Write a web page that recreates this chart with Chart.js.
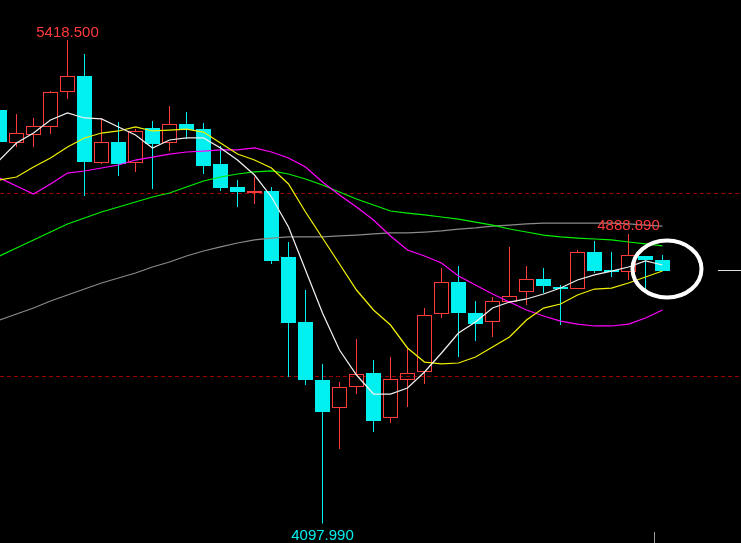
<!DOCTYPE html>
<html>
<head>
<meta charset="utf-8">
<script src="https://cdn.jsdelivr.net/npm/chart.js@4.4.1/dist/chart.umd.min.js"></script>
<style>
  html, body { margin: 0; padding: 0; background: #000; overflow: hidden; }
  canvas { display: block; }
</style>
</head>
<body>
<canvas id="kline" width="741" height="543"></canvas>
<script>
// daily candles, oldest first (price units)
const opens  = [5227.6, 5137.4, 5159.2, 5181.1, 5276.7, 5320.5, 5082.8, 5140.1, 5082.8, 5178.4,
                5137.4, 5189.3, 5175.6, 5080.0, 5017.2, 5000.8, 5006.2, 4825.9, 4648.3, 4489.9,
                4413.4, 4470.8, 4509.0, 4386.0, 4489.9, 4511.7, 4670.2, 4757.6, 4672.9, 4648.3,
                4702.9, 4730.3, 4765.8, 4743.9, 4738.4, 4839.6, 4790.4, 4784.9, 4828.7, 4817.7];
const closes = [5140.1, 5164.7, 5183.8, 5276.7, 5320.5, 5085.5, 5140.1, 5080.0, 5170.2, 5134.7,
                5189.3, 5172.9, 5074.6, 5014.4, 5003.5, 5006.2, 4815.0, 4645.6, 4489.9, 4402.4,
                4470.8, 4506.3, 4377.8, 4492.6, 4509.0, 4667.4, 4757.6, 4672.9, 4642.8, 4705.7,
                4719.3, 4765.8, 4746.7, 4738.4, 4839.6, 4787.6, 4784.9, 4831.4, 4817.7, 4787.6];
const highs  = [5230.0, 5216.6, 5205.7, 5279.5, 5418.5, 5380.6, 5205.7, 5194.8, 5175.6, 5197.5,
                5238.5, 5222.1, 5192.0, 5129.2, 5036.3, 5044.5, 5017.2, 4866.9, 4735.7, 4533.6,
                4484.4, 4601.9, 4544.5, 4552.7, 4580.0, 4686.5, 4795.8, 4801.3, 4705.7, 4716.6,
                4853.3, 4801.3, 4795.8, 4749.4, 4845.1, 4869.7, 4839.6, 4888.89, 4828.7, 4831.4];
const lows   = [5137.4, 5126.5, 5126.5, 5162.0, 5257.6, 4992.6, 5080.0, 5047.2, 5058.2, 5011.7,
                5115.5, 5148.3, 5052.7, 5006.2, 4962.5, 4970.7, 4806.8, 4498.1, 4476.2, 4097.99,
                4301.3, 4451.6, 4347.7, 4372.4, 4416.1, 4478.9, 4659.2, 4552.7, 4596.4, 4607.3,
                4700.2, 4694.7, 4727.5, 4640.1, 4738.4, 4782.2, 4771.2, 4763.1, 4738.4, 4787.6];

// moving averages
const ma5  = [5090.9, 5137.4, 5164.7, 5200.2, 5219.4, 5205.7, 5203.0, 5181.1, 5159.2, 5123.8,
              5145.6, 5151.1, 5151.1, 5123.8, 5090.9, 5049.9, 4989.9, 4907.9, 4790.4, 4672.9,
              4571.8, 4503.5, 4451.6, 4451.6, 4468.0, 4511.7, 4563.6, 4618.3, 4648.3, 4686.5,
              4702.9, 4711.2, 4724.8, 4741.2, 4763.1, 4776.8, 4787.6, 4798.6, 4815.0, 4804.1];
const ma10 = [5036.3, 5044.5, 5071.8, 5096.4, 5126.5, 5151.1, 5164.7, 5170.2, 5181.1, 5170.2,
              5172.9, 5175.6, 5167.4, 5137.4, 5107.3, 5090.9, 5069.1, 5025.4, 4948.9, 4877.8,
              4806.8, 4735.7, 4681.1, 4640.1, 4577.3, 4538.8, 4533.6, 4536.3, 4552.7, 4580.0,
              4607.3, 4653.8, 4686.5, 4697.5, 4722.1, 4738.4, 4741.2, 4754.9, 4771.2, 4787.6];
const ma20 = [5041.8, 5019.9, 4998.0, 5025.4, 5055.4, 5060.9, 5069.1, 5077.3, 5090.9, 5099.1,
              5107.3, 5112.8, 5115.5, 5118.3, 5118.3, 5123.8, 5112.8, 5096.4, 5071.8, 5030.8,
              4995.3, 4962.5, 4927.0, 4883.3, 4845.1, 4828.7, 4809.5, 4774.0, 4749.4, 4724.8,
              4702.9, 4681.1, 4664.7, 4651.0, 4642.8, 4637.4, 4637.4, 4642.8, 4659.2, 4681.1];
const ma30 = [4828.7, 4850.5, 4872.4, 4894.2, 4916.1, 4932.5, 4948.9, 4962.5, 4976.2, 4989.9,
              5000.8, 5017.2, 5033.6, 5044.5, 5052.7, 5058.2, 5060.9, 5052.7, 5039.0, 5022.6,
              5003.5, 4984.4, 4968.0, 4951.6, 4946.1, 4940.7, 4935.2, 4929.7, 4921.5, 4913.3,
              4902.4, 4894.2, 4886.0, 4880.6, 4877.8, 4875.1, 4872.4, 4866.9, 4861.5, 4856.0];
const ma60 = [4653.8, 4670.2, 4686.5, 4705.7, 4722.1, 4738.4, 4754.9, 4768.5, 4782.2, 4798.6,
              4812.3, 4828.7, 4842.3, 4853.3, 4864.2, 4872.4, 4877.8, 4880.6, 4880.6, 4880.6,
              4883.3, 4886.0, 4888.8, 4891.5, 4891.5, 4894.2, 4897.0, 4902.4, 4905.2, 4910.6,
              4913.3, 4916.1, 4918.8, 4918.8, 4918.8, 4918.8, 4918.8, 4916.1, 4913.3, 4910.6];

const levels = [5000, 4500];                          // dashed price levels
const marks = [[4, 'high'], [19, 'low'], [37, 'high']]; // labelled extremes

const RED = '#ff3b3b';
const CYAN = '#00f0f0';

const idx = opens.map((_, i) => i);
const upIdx = idx.filter(i => closes[i] >= opens[i]);
const downIdx = idx.filter(i => closes[i] < opens[i]);

const maLine = (vals, color, order) => ({
  type: 'line',
  data: vals.map((v, i) => ({ x: i, y: v })),
  borderColor: color,
  borderWidth: 1.25,
  pointRadius: 0,
  tension: 0,
  order: order
});

const barSet = (data, opts) => Object.assign({
  type: 'bar',
  data: data,
  grouped: false,
  inflateAmount: 0,
  borderWidth: 0,
  borderSkipped: false
}, opts);

const overlay = {
  id: 'overlay',
  beforeDraw(chart) {
    const ctx = chart.ctx;
    ctx.save();
    ctx.fillStyle = '#000';
    ctx.fillRect(0, 0, chart.width, chart.height);
    ctx.restore();
  },
  beforeDatasetsDraw(chart) {
    const ctx = chart.ctx;
    const y = chart.scales.y;
    ctx.save();
    ctx.strokeStyle = '#990000';
    ctx.lineWidth = 1;
    ctx.setLineDash([4, 3]);
    levels.forEach(l => {
      const py = Math.round(y.getPixelForValue(l)) + 0.5;
      ctx.beginPath();
      ctx.moveTo(0, py);
      ctx.lineTo(chart.width, py);
      ctx.stroke();
    });
    ctx.restore();
  },
  afterDatasetsDraw(chart) {
    const ctx = chart.ctx;
    const x = chart.scales.x;
    const y = chart.scales.y;
    ctx.save();
    ctx.font = '15px "Liberation Sans", Arial, sans-serif';
    ctx.textAlign = 'center';
    ctx.textBaseline = 'alphabetic';
    marks.forEach(([i, kind]) => {
      const px = x.getPixelForValue(i);
      if (kind === 'high') {
        ctx.fillStyle = RED;
        ctx.fillText(highs[i].toFixed(3), px, y.getPixelForValue(highs[i]) - 3.5);
      } else {
        ctx.fillStyle = CYAN;
        ctx.fillText(lows[i].toFixed(3), px, y.getPixelForValue(lows[i]) + 16.5);
      }
    });

    // last price marker on the right
    const last = closes.length - 1;
    const lastY = Math.round(y.getPixelForValue(closes[last])) - 0.5;
    ctx.strokeStyle = '#e0e0e0';
    ctx.lineWidth = 1;
    ctx.beginPath();
    ctx.moveTo(718, lastY);
    ctx.lineTo(chart.width, lastY);
    ctx.stroke();

    // separator tick at bottom
    const sepX = Math.round((x.getPixelForValue(last - 1) + x.getPixelForValue(last)) / 2) + 0.5;
    ctx.strokeStyle = '#9a9a9a';
    ctx.beginPath();
    ctx.moveTo(sepX, 532);
    ctx.lineTo(sepX, chart.height);
    ctx.stroke();

    // circle round the latest candle
    ctx.strokeStyle = '#ffffff';
    ctx.lineWidth = 4;
    ctx.beginPath();
    ctx.ellipse(x.getPixelForValue(last) + 4.5, lastY - 1.5, 34.5, 28.5, 0, 0, Math.PI * 2);
    ctx.stroke();
    ctx.restore();
  }
};

new Chart(document.getElementById('kline'), {
  type: 'bar',
  data: {
    datasets: [
      maLine(ma5, '#f0f0f0', 0),
      maLine(ma10, '#f0f000', 0),
      maLine(ma20, '#ff00ff', 0),
      maLine(ma30, '#00f000', 0),
      maLine(ma60, '#8a8a8a', 0),
      barSet(upIdx.map(i => ({ x: i, y: [opens[i], closes[i]] })),
        { backgroundColor: 'rgba(0,0,0,0)', borderColor: RED, borderWidth: 1, barThickness: 15, order: 5 }),
      barSet(upIdx.map(i => ({ x: i, y: [closes[i], highs[i]] })),
        { backgroundColor: RED, barThickness: 1, order: 6 }),
      barSet(upIdx.map(i => ({ x: i, y: [lows[i], opens[i]] })),
        { backgroundColor: RED, barThickness: 1, order: 6 }),
      barSet(downIdx.map(i => ({ x: i, y: [opens[i], closes[i]] })),
        { backgroundColor: CYAN, barThickness: 15, order: 5 }),
      barSet(downIdx.map(i => ({ x: i, y: [lows[i], highs[i]] })),
        { backgroundColor: CYAN, barThickness: 1, order: 6 })
    ]
  },
  options: {
    responsive: false,
    animation: false,
    devicePixelRatio: 1,
    layout: { padding: 0 },
    plugins: { legend: { display: false }, tooltip: { enabled: false } },
    scales: {
      x: { type: 'linear', display: false, offset: false, min: 0.5 / 17, max: 0.5 / 17 + 741 / 17 },
      y: { type: 'linear', display: false, min: 4044.5, max: 5528.1 }
    }
  },
  plugins: [overlay]
});
</script>
</body>
</html>
